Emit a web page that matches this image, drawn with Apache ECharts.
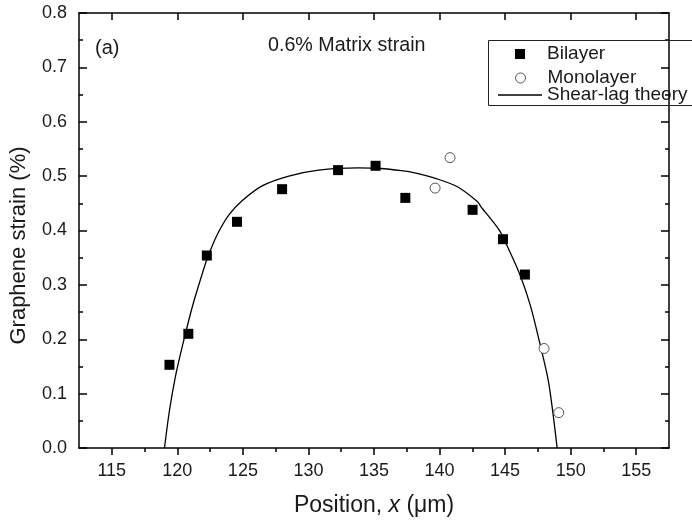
<!DOCTYPE html>
<html>
<head>
<meta charset="utf-8">
<script src="https://cdn.jsdelivr.net/npm/echarts@6/dist/echarts.min.js"></script>
<style>
html,body{margin:0;padding:0;background:#fff;}
#chart{width:692px;height:524px;}
</style>
</head>
<body>
<div id="chart"></div>
<script>
// ---- data ----
const bilayerX = [119.40, 120.84, 122.25, 124.55, 127.99, 132.26, 135.12, 137.39, 142.52, 144.84, 146.51];
const bilayerY = [0.153, 0.210, 0.354, 0.416, 0.476, 0.511, 0.519, 0.460, 0.438, 0.384, 0.319];
const monoX = [139.66, 140.80, 147.97, 149.09];
const monoY = [0.478, 0.534, 0.183, 0.065];
const curveX = [119.02, 119.40, 119.85, 120.41, 121.17, 121.92, 122.30, 123.06, 123.95, 124.96, 126.47, 128.50, 130.77, 133.80, 135.50, 137.09, 138.10, 139.80, 141.39, 142.90, 143.15, 144.54, 145.30, 146.19, 146.95, 147.71, 148.33, 148.97];
const curveY = [0.000, 0.069, 0.131, 0.190, 0.262, 0.322, 0.350, 0.393, 0.429, 0.455, 0.482, 0.500, 0.511, 0.515, 0.514, 0.510, 0.506, 0.495, 0.480, 0.453, 0.444, 0.401, 0.364, 0.315, 0.260, 0.186, 0.119, 0.000];
const xMajorTicks = [115, 120, 125, 130, 135, 140, 145, 150, 155];
const xMinorTicks = [117.5, 122.5, 127.5, 132.5, 137.5, 142.5, 147.5, 152.5];
const seriesNames = ['Bilayer', 'Monolayer', 'Shear-lag theory'];
const xTitle = ['Position, ', 'x', ' (\u03bcm)'];
const yTitle = 'Graphene strain (%)';
const panelLabel = '(a)';
const noteText = '0.6% Matrix strain';

const FONT = "'Liberation Sans', Arial, Helvetica, sans-serif";
const TXT = '#1a1a1a';

const zip = (a, b) => a.map((v, i) => [v, b[i]]);

const chart = echarts.init(document.getElementById('chart'), null, {renderer: 'canvas'});

const xBase = {min: 112.5, max: 157.5, type: 'value', splitLine: {show: false}};
const legendText = {fontFamily: FONT, fontSize: 19, color: TXT, lineHeight: 20};
const option = {
  animation: false,
  backgroundColor: '#fff',
  grid: {left: 76, right: 23, top: 13, bottom: 76, containLabel: false},
  xAxis: [
    Object.assign({}, xBase, {
      position: 'bottom',
      name: '{a|' + xTitle[0] + '}{b|' + xTitle[1] + '}{a|' + xTitle[2] + '}',
      nameLocation: 'middle', nameGap: 46,
      nameTextStyle: {rich: {
        a: {fontFamily: FONT, fontSize: 23, color: TXT},
        b: {fontFamily: FONT, fontSize: 23, color: TXT, fontStyle: 'italic'}
      }},
      axisLine: {show: true, onZero: false, lineStyle: {color: '#000', width: 1.5}},
      axisTick: {show: true, inside: false, length: 7, customValues: xMajorTicks, lineStyle: {color: '#000', width: 1.5}},
      axisLabel: {show: true, customValues: xMajorTicks, margin: 14, fontFamily: FONT, fontSize: 18, color: TXT}
    }),
    Object.assign({}, xBase, {
      position: 'bottom',
      axisLine: {show: false},
      axisTick: {show: true, inside: false, length: 4, customValues: xMinorTicks, lineStyle: {color: '#000', width: 1.5}},
      axisLabel: {show: false}
    }),
    Object.assign({}, xBase, {
      position: 'top',
      axisLine: {show: true, onZero: false, lineStyle: {color: '#000', width: 1.5}},
      axisTick: {show: true, inside: true, length: 7, customValues: xMajorTicks, lineStyle: {color: '#000', width: 1.5}},
      axisLabel: {show: false}
    }),
    Object.assign({}, xBase, {
      position: 'top',
      axisLine: {show: false},
      axisTick: {show: true, inside: true, length: 4, customValues: xMinorTicks, lineStyle: {color: '#000', width: 1.5}},
      axisLabel: {show: false}
    })
  ],
  yAxis: [
    {
      type: 'value', min: 0, max: 0.8, interval: 0.1, position: 'left',
      name: yTitle, nameLocation: 'middle', nameGap: 49, nameRotate: 90,
      nameTextStyle: {fontFamily: FONT, fontSize: 22, color: TXT, padding: [0, 30, 0, 0]},
      splitLine: {show: false},
      axisLine: {show: true, onZero: false, lineStyle: {color: '#000', width: 1.5}},
      axisTick: {show: true, inside: true, length: 8, lineStyle: {color: '#000', width: 1.5}},
      minorTick: {show: true, splitNumber: 2, length: 4, lineStyle: {color: '#000', width: 1.5}},
      axisLabel: {margin: 12, fontFamily: FONT, fontSize: 18, color: TXT, formatter: v => v.toFixed(1)}
    },
    {
      type: 'value', min: 0, max: 0.8, interval: 0.1, position: 'right',
      splitLine: {show: false},
      axisLine: {show: true, onZero: false, lineStyle: {color: '#000', width: 1.5}},
      axisTick: {show: true, inside: true, length: 8, lineStyle: {color: '#000', width: 1.5}},
      minorTick: {show: true, splitNumber: 2, length: 4, lineStyle: {color: '#000', width: 1.5}},
      axisLabel: {show: false}
    }
  ],
  legend: [
    {
      data: [{name: seriesNames[0], icon: 'path://M0,0H10V10H0Z', itemStyle: {color: '#000', opacity: 1}}],
      left: 515, top: 44, padding: 0, itemWidth: 44, itemHeight: 10, selectedMode: false,
      textStyle: legendText
    },
    {
      data: [{name: seriesNames[1], icon: 'path://M5,0A5,5 0 1,1 5,10A5,5 0 1,1 5,0Z',
              itemStyle: {color: '#fff', borderColor: '#555', borderWidth: 1, opacity: 1}}],
      left: 515, top: 68, padding: 0, itemWidth: 44, itemHeight: 10, selectedMode: false,
      textStyle: legendText
    },
    {
      data: [{name: seriesNames[2], icon: 'rect', itemStyle: {color: '#000'}}],
      left: 498, top: 85, padding: 0, itemWidth: 44, itemHeight: 1.3, selectedMode: false,
      textStyle: legendText
    }
  ],
  graphic: [
    {type: 'rect', left: 486, top: 38, z: 50, silent: true,
     shape: {width: 230, height: 65}, style: {fill: 'none', stroke: '#222', lineWidth: 1}},
    {type: 'text', left: 95, top: 38, z: 50, silent: true,
     style: {text: panelLabel, font: '20px ' + FONT, fill: TXT}},
    {type: 'text', left: 268, top: 36, z: 50, silent: true,
     style: {text: noteText, font: '19.7px ' + FONT, fill: TXT}}
  ],
  series: [
    {
      name: seriesNames[0], type: 'scatter', xAxisIndex: 0, yAxisIndex: 0,
      symbol: 'rect', symbolSize: 10, itemStyle: {color: '#000', opacity: 1},
      data: zip(bilayerX, bilayerY), z: 5
    },
    {
      name: seriesNames[1], type: 'scatter', xAxisIndex: 0, yAxisIndex: 0,
      symbol: 'circle', symbolSize: 10,
      itemStyle: {color: '#fff', borderColor: '#555', borderWidth: 1, opacity: 1},
      data: zip(monoX, monoY), z: 5
    },
    {
      name: seriesNames[2], type: 'line', xAxisIndex: 0, yAxisIndex: 0,
      symbol: 'none', smooth: 0.3, lineStyle: {color: '#000', width: 1.3},
      itemStyle: {color: '#000'},
      data: zip(curveX, curveY), z: 3
    }
  ]
};
chart.setOption(option);
</script>
</body>
</html>
